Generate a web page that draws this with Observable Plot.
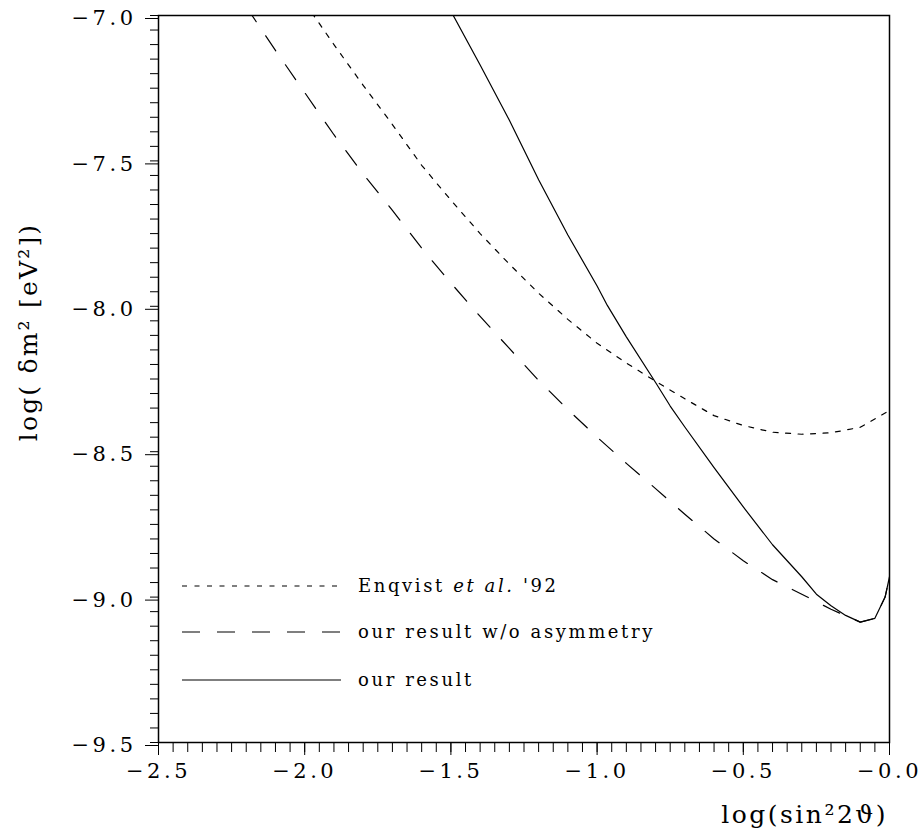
<!DOCTYPE html>
<html>
<head>
<meta charset="utf-8">
<script src="https://cdn.jsdelivr.net/npm/d3@7"></script>
<script src="https://cdn.jsdelivr.net/npm/@observablehq/plot@0.6"></script>
<style>
  html, body { margin: 0; padding: 0; background: #fff; }
  #chart svg text { font-family: "DejaVu Serif", serif; fill: #000; }
  .ticklab text { letter-spacing: 3.5px; }
</style>
</head>
<body>
<div id="chart"></div>
<script>
// Axis ticks and labels
const xTicks = [-2.5, -2.0, -1.5, -1.0, -0.5, 0.0];
const xTickLabels = ["−2.5", "−2.0", "−1.5", "−1.0", "−0.5", "−0.0"];
const yTicks = [-9.5, -9.0, -8.5, -8.0, -7.5, -7.0];
const yTickLabels = ["−9.5", "−9.0", "−8.5", "−8.0", "−7.5", "−7.0"];
const xTitle = "log(sin²2ϑ)";
const yTitle = "log( δm² [eV²])";

// Series: Enqvist et al. '92 (dotted)
const enqvistX = [-2.0, -1.9, -1.8, -1.7, -1.6, -1.5, -1.4, -1.3, -1.2, -1.1, -1.0, -0.9, -0.8, -0.7, -0.6, -0.5, -0.4, -0.3, -0.2, -0.1, 0.0];
const enqvistY = [-6.955, -7.1, -7.24, -7.375, -7.515, -7.635, -7.75, -7.855, -7.955, -8.045, -8.127, -8.195, -8.258, -8.318, -8.376, -8.41, -8.433, -8.44, -8.435, -8.416, -8.358];

// Series: our result w/o asymmetry (dashed)
const noAsymX = [-2.2, -2.1, -2.0, -1.9, -1.8, -1.7, -1.6, -1.5, -1.4, -1.3, -1.2, -1.1, -1.0, -0.9, -0.8, -0.7, -0.6, -0.5, -0.4, -0.3, -0.2, -0.1, -0.05, -0.015, 0.0];
const noAsymY = [-6.97, -7.12, -7.265, -7.41, -7.545, -7.67, -7.8, -7.92, -8.035, -8.145, -8.255, -8.355, -8.45, -8.54, -8.627, -8.715, -8.8, -8.875, -8.94, -8.99, -9.042, -9.086, -9.073, -9.0, -8.93];

// Series: our result (solid)
const ourX = [-1.5, -1.4, -1.3, -1.2, -1.1, -1.0, -0.965, -0.9, -0.8, -0.75, -0.7, -0.6, -0.5, -0.4, -0.3, -0.25, -0.2, -0.15, -0.1, -0.05, -0.015, 0.0];
const ourY = [-6.985, -7.17, -7.36, -7.565, -7.755, -7.93, -7.997, -8.105, -8.262, -8.343, -8.415, -8.555, -8.69, -8.82, -8.93, -8.99, -9.03, -9.063, -9.086, -9.073, -9.0, -8.93];

// Legend
const legendLabels = ["Enqvist et al. '92", "our result w/o asymmetry", "our result"];
const legendDash = ["5,7.5", "18,17", null];

const toRows = (xs, ys) => xs.map((x, i) => ({x, y: ys[i]}));
const enqvist = toRows(enqvistX, enqvistY);
const noAsym = toRows(noAsymX, noAsymY);
const ours = toRows(ourX, ourY);

const xMinor = d3.range(-2.5, 0.0001, 0.05).map(v => +v.toFixed(2));
const yMinor = d3.range(-9.5, -6.9999, 0.05).map(v => +v.toFixed(2));

const chart = Plot.plot({
  width: 922,
  height: 835,
  marginLeft: 158,
  marginRight: 33,
  marginTop: 15,
  marginBottom: 93,
  x: {domain: [-2.5, 0]},
  y: {domain: [-9.5, -7]},
  style: {background: "#fff", color: "#000", fontFamily: "DejaVu Serif"},
  marks: [
    Plot.axisX({ticks: xMinor, tickSize: 10, tickFormat: () => "", label: null, strokeWidth: 1}),
    Plot.axisY({ticks: yMinor, tickSize: 8, tickFormat: () => "", label: null, strokeWidth: 1}),
    Plot.axisX({ticks: xTicks, tickSize: 13, tickPadding: 8, fontSize: 21, className: "ticklab",
      tickFormat: d => xTickLabels[xTicks.indexOf(d)], label: null, strokeWidth: 1}),
    Plot.axisY({ticks: yTicks, tickSize: 13, tickPadding: 9, fontSize: 21, className: "ticklab", dy: 3,
      tickFormat: d => yTickLabels[yTicks.indexOf(d)], label: null, strokeWidth: 1}),
    Plot.line(enqvist, {x: "x", y: "y", stroke: "#000", strokeWidth: 1.2, strokeDasharray: "5,7.5", clip: true}),
    Plot.line(noAsym, {x: "x", y: "y", stroke: "#000", strokeWidth: 1.2, strokeDasharray: "18,17", clip: true}),
    Plot.line(ours, {x: "x", y: "y", stroke: "#000", strokeWidth: 1.2, clip: true}),
    Plot.frame({stroke: "#000", strokeWidth: 1.5})
  ]
});
document.getElementById("chart").appendChild(chart);

const svg = d3.select(chart);
// Axis titles
svg.append("text")
  .attr("x", 888).attr("y", 823)
  .attr("text-anchor", "end")
  .style("font-size", "25px").style("letter-spacing", "2.5px")
  .text(xTitle);
svg.append("text")
  .attr("transform", "translate(37,332) rotate(-90)")
  .attr("text-anchor", "middle")
  .style("font-size", "25px").style("letter-spacing", "2.2px")
  .text(yTitle);

// Legend
const legY = [586, 632, 680];
const lg = svg.append("g").attr("text-anchor", "start");
legendLabels.forEach((lab, i) => {
  lg.append("line")
    .attr("x1", 182).attr("x2", 341)
    .attr("y1", legY[i]).attr("y2", legY[i])
    .attr("stroke", "#000").attr("stroke-width", 1.2)
    .attr("stroke-dasharray", legendDash[i]);
  const t = lg.append("text")
    .attr("x", 358).attr("y", legY[i] + 6)
    .attr("text-anchor", "start")
    .style("font-size", "18px").style("letter-spacing", "2.6px");
  if (lab.includes("et al.")) {
    const parts = lab.split("et al.");
    t.append("tspan").text(parts[0]);
    t.append("tspan").style("font-style", "italic").text("et al.");
    t.append("tspan").text(parts[1]);
  } else {
    t.text(lab);
  }
});
</script>
</body>
</html>
